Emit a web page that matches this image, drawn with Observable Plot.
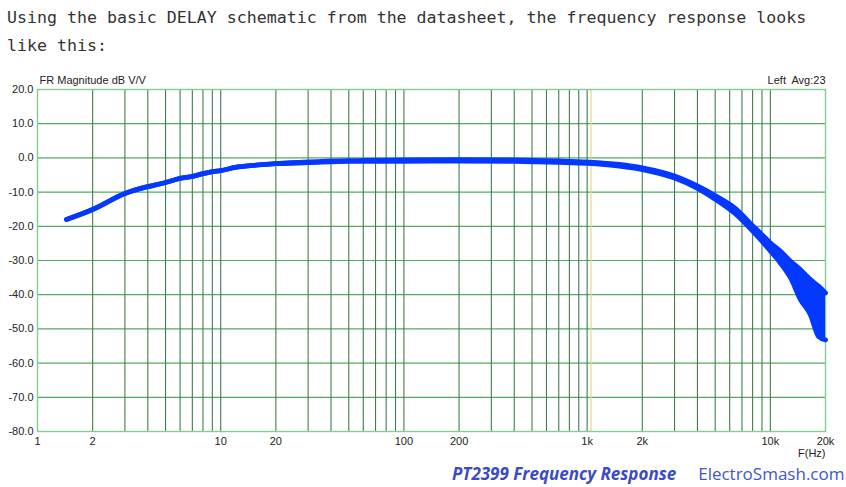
<!DOCTYPE html>
<html>
<head>
<meta charset="utf-8">
<script src="https://cdn.jsdelivr.net/npm/d3@7"></script>
<script src="https://cdn.jsdelivr.net/npm/@observablehq/plot@0.6"></script>
<style>
  html, body { margin: 0; padding: 0; background: #fff; }
  body { width: 846px; height: 487px; position: relative; overflow: hidden; }
  #intro { position: absolute; left: 7px; top: 4px; width: 840px; font-family: "DejaVu Sans Mono", monospace; font-size: 16.6px; line-height: 28px; color: #333; }
  #chart { position: absolute; left: 0; top: 70px; }
  #caption { position: absolute; top: 462px; left: 452px; font-family: "Open Sans", sans-serif; font-size: 17px; color: #4455cc; white-space: nowrap; }
  #caption b { font-style: italic; font-weight: 700; color: #3b4bc4; margin-right: 22px; }
  svg text { font-family: "Liberation Sans", Arial, sans-serif; }
</style>
</head>
<body>
<div id="intro">Using the basic DELAY schematic from the datasheet, the frequency response looks<br>like this:</div>
<div id="chart"></div>
<div id="caption"><b>PT2399 Frequency Response</b>ElectroSmash.com</div>
<script>
const freqHz  = [1.44, 2, 3, 4, 5, 6, 7, 8, 9, 10, 12, 15, 20, 30, 50, 100, 200, 400, 700, 1000, 1500, 2000, 3000, 4000, 5000, 6460, 8000, 8840, 10020, 11370, 12890, 14620, 16560, 18320, 20000];
const upperDb = [-18.0, -15.1, -10.4, -8.4, -7.2, -6.0, -5.4, -4.6, -4.0, -3.7, -2.8, -2.2, -1.7, -1.2, -0.8, -0.6, -0.5, -0.6, -0.9, -1.2, -1.9, -2.9, -5.3, -8.2, -11.0, -14.8, -19.8, -22.0, -24.9, -27.3, -30.2, -32.7, -35.6, -37.5, -39.5];
const lowerDb = [-18.0, -15.1, -10.4, -8.4, -7.2, -6.0, -5.4, -4.6, -4.0, -3.7, -2.8, -2.2, -1.7, -1.4, -1.0, -1.0, -0.9, -1.0, -1.3, -1.6, -2.4, -3.4, -5.9, -8.9, -12.1, -16.4, -21.4, -23.9, -27.3, -30.8, -35.1, -41.5, -45.9, -52.2, -53.2];

// Axes
const yTicks = [20, 10, 0, -10, -20, -30, -40, -50, -60, -70, -80];
const xTickValues = [1, 2, 5, 10, 20, 50, 100, 200, 500, 1000, 2000, 5000, 10000, 20000];
const xTickLabels = ["1", "2", "5", "10", "20", "50", "100", "200", "500", "1k", "2k", "5k", "10k", "20k"];
const gridHz = [2,3,4,5,6,7,8,9,10,20,30,40,50,60,70,80,90,100,200,300,400,500,600,700,800,900,1000,2000,3000,4000,5000,6000,7000,8000,9000,10000];
const markerHz = [1050];

const data = freqHz.map((f, i) => ({f, hi: upperDb[i], lo: lowerDb[i]}));
const labelMap = new Map(xTickValues.map((v, i) => [v, xTickLabels[i]]));
const blue = "#0538ff";

const chart = Plot.plot({
  width: 846,
  height: 400,
  marginLeft: 37,
  marginRight: 21,
  marginTop: 19,
  marginBottom: 39,
  style: {fontSize: "11px", color: "#222", background: "transparent"},
  x: {type: "log", domain: [1, 20000], label: null},
  y: {domain: [-80, 20], label: null},
  marks: [
    Plot.ruleY(yTicks, {y: d => d, stroke: "#55a865", strokeWidth: 1.2}),
    Plot.ruleX(gridHz, {x: d => d, stroke: "#3f7d4e", strokeWidth: 1.1}),
    Plot.ruleX(markerHz, {x: d => d, stroke: "#e4d98a", strokeWidth: 1.2}),
    Plot.frame({stroke: "#86cc92", strokeWidth: 1.4}),
    Plot.axisY(yTicks, {tickSize: 0, tickPadding: 4, tickFormat: d => d.toFixed(1), fontSize: 11}),
    Plot.axisX(xTickValues, {tickSize: 0, tickPadding: 6, tickFormat: d => labelMap.get(d), fontSize: 11}),
    Plot.areaY(data, {x: "f", y1: "lo", y2: "hi", fill: blue, curve: "monotone-x"}),
    Plot.line(data, {x: "f", y: "hi", stroke: blue, strokeWidth: 4.8, curve: "monotone-x"}),
    Plot.line(data, {x: "f", y: "lo", stroke: blue, strokeWidth: 4.8, curve: "monotone-x"}),
    Plot.text(["FR Magnitude dB V/V"], {frameAnchor: "top-left", dx: 2, dy: -13, text: d => d, fontSize: 11, fill: "#222"}),
    Plot.text(["Left  Avg:23"], {frameAnchor: "top-right", dx: 0, dy: -13, text: d => d, fontSize: 11, fill: "#222"}),
    Plot.text(["F(Hz)"], {frameAnchor: "bottom-right", dx: 0, dy: 25, text: d => d, fontSize: 11, fill: "#222"})
  ]
});
document.getElementById("chart").appendChild(chart);
</script>
</body>
</html>
